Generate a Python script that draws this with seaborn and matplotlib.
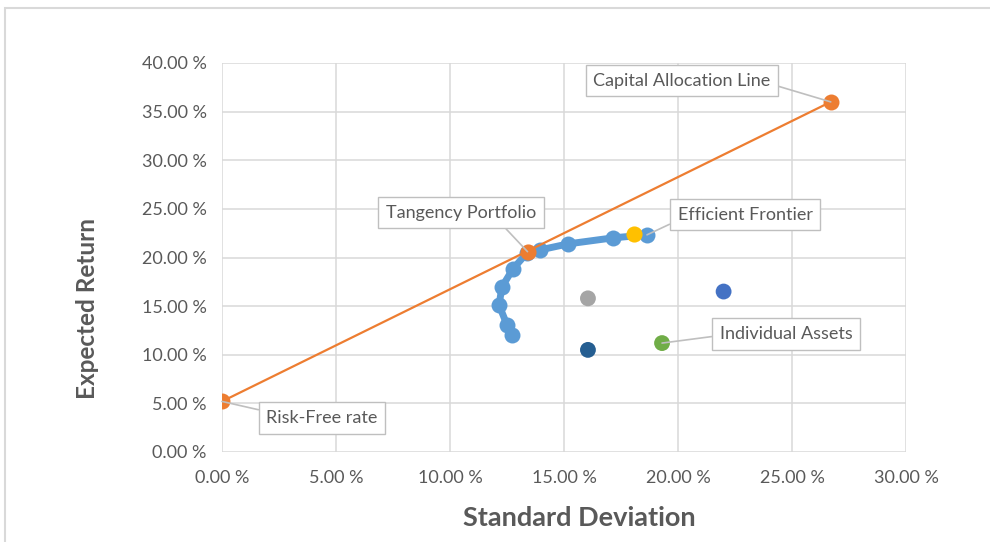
import numpy as np
import pandas as pd
import matplotlib
matplotlib.use("Agg")
import matplotlib.pyplot as plt
import seaborn as sns
from matplotlib.patches import Rectangle
from matplotlib.ticker import FuncFormatter, MultipleLocator

# Efficient frontier (std dev %, expected return %)
frontier_sd = [12.72, 12.50, 12.15, 12.28, 12.76, 13.38, 13.95, 15.18, 17.15, 18.64]
frontier_ret = [12.04, 13.07, 15.12, 16.98, 18.83, 20.47, 20.78, 21.40, 22.02, 22.33]

# Capital allocation line: risk-free point -> extension point
cal_sd = [0.0, 26.7]
cal_ret = [5.2, 36.0]

# Tangency portfolio and the yellow portfolio on the frontier
tangency = (13.4, 20.6)
yellow_pt = (18.07, 22.43)

# Individual assets
asset_names = ["Asset A", "Asset B", "Asset C", "Asset D"]
asset_sd = [16.05, 22.0, 16.05, 19.3]
asset_ret = [15.8, 16.5, 10.5, 11.2]
asset_colors = ["#A5A5A5", "#4472C4", "#255E91", "#70AD47"]

sns.set_style("white")
plt.rcParams["font.family"] = ["Lato", "DejaVu Sans"]

fig = plt.figure(figsize=(9.9, 5.42), dpi=100)
ax = fig.add_axes([222 / 990, 1 - 452 / 542, (906 - 222) / 990, (452 - 63) / 542])

grey_text = "#595959"
ax.set_xlim(0, 30)
ax.set_ylim(0, 40)
ax.xaxis.set_major_locator(MultipleLocator(5))
ax.yaxis.set_major_locator(MultipleLocator(5))
pct = FuncFormatter(lambda v, _: f"{v:.2f} %")
ax.xaxis.set_major_formatter(pct)
ax.yaxis.set_major_formatter(pct)
ax.grid(True, color="#d9d9d9", linewidth=1.1)
for s in ax.spines.values():
    s.set_visible(False)
ax.tick_params(axis="both", length=0, labelsize=13, colors=grey_text)
ax.tick_params(axis="x", pad=13)
ax.tick_params(axis="y", pad=11)

# frontier
fdf = pd.DataFrame({"sd": frontier_sd, "ret": frontier_ret})
sns.lineplot(data=fdf, x="sd", y="ret", sort=False, ax=ax, color="#5B9BD5",
             linewidth=5, marker="o", markersize=11.5, markeredgewidth=0, zorder=3)

# capital allocation line
cdf = pd.DataFrame({"sd": cal_sd, "ret": cal_ret})
sns.lineplot(data=cdf, x="sd", y="ret", sort=False, ax=ax, color="#ED7D31",
             linewidth=1.6, marker="o", markersize=11.5, markeredgewidth=0, zorder=4)

ax.scatter([tangency[0]], [tangency[1]], s=135, color="#ED7D31", zorder=5, linewidths=0)
ax.scatter([yellow_pt[0]], [yellow_pt[1]], s=135, color="#FFC000", zorder=5, linewidths=0)

adf = pd.DataFrame({"sd": asset_sd, "ret": asset_ret, "name": asset_names})
sns.scatterplot(data=adf, x="sd", y="ret", hue="name", palette=asset_colors,
                s=130, linewidth=0, legend=False, ax=ax, zorder=5)

ax.set_xlabel("Standard Deviation", fontsize=19.5, fontweight="bold", color=grey_text)
ax.set_ylabel("Expected Return", fontsize=17.5, fontweight="bold", color=grey_text)
ax.xaxis.set_label_coords(0.523, -0.17)
ax.yaxis.set_label_coords(-0.196, 0.37)
ax.xaxis.label.set_va("center")
ax.yaxis.label.set_va("center")

box = dict(boxstyle="square,pad=0.42", facecolor="white", edgecolor="#bfbfbf", linewidth=1)


def callout(text, xy, xytext, relpos):
    ax.annotate(text, xy=xy, xytext=xytext, textcoords="data", ha="center", va="center",
                fontsize=13, color=grey_text, bbox=box, zorder=6,
                arrowprops=dict(arrowstyle="-", color="#bfbfbf", linewidth=1.2,
                                shrinkA=0, shrinkB=0, relpos=relpos))


callout("Capital Allocation Line", (cal_sd[1], cal_ret[1]), (20.18, 38.17), (1, 0.3))
callout("Tangency Portfolio", tangency, (10.48, 24.59), (0.75, 0))
callout("Efficient Frontier", (frontier_sd[-1], frontier_ret[-1]), (22.94, 24.38), (0, 0.15))
callout("Individual Assets", (asset_sd[3], asset_ret[3]), (24.74, 12.14), (0, 0.4))
callout("Risk-Free rate", (cal_sd[0], cal_ret[0]), (4.39, 3.5), (0, 0.9))

# outer chart frame
fig.patches.append(Rectangle((5 / 990, -0.1), 1.2, 1.1 - 8 / 542, transform=fig.transFigure,
                             fill=False, edgecolor="#d9d9d9", linewidth=1.5))

fig.savefig("out.png", dpi=100)
